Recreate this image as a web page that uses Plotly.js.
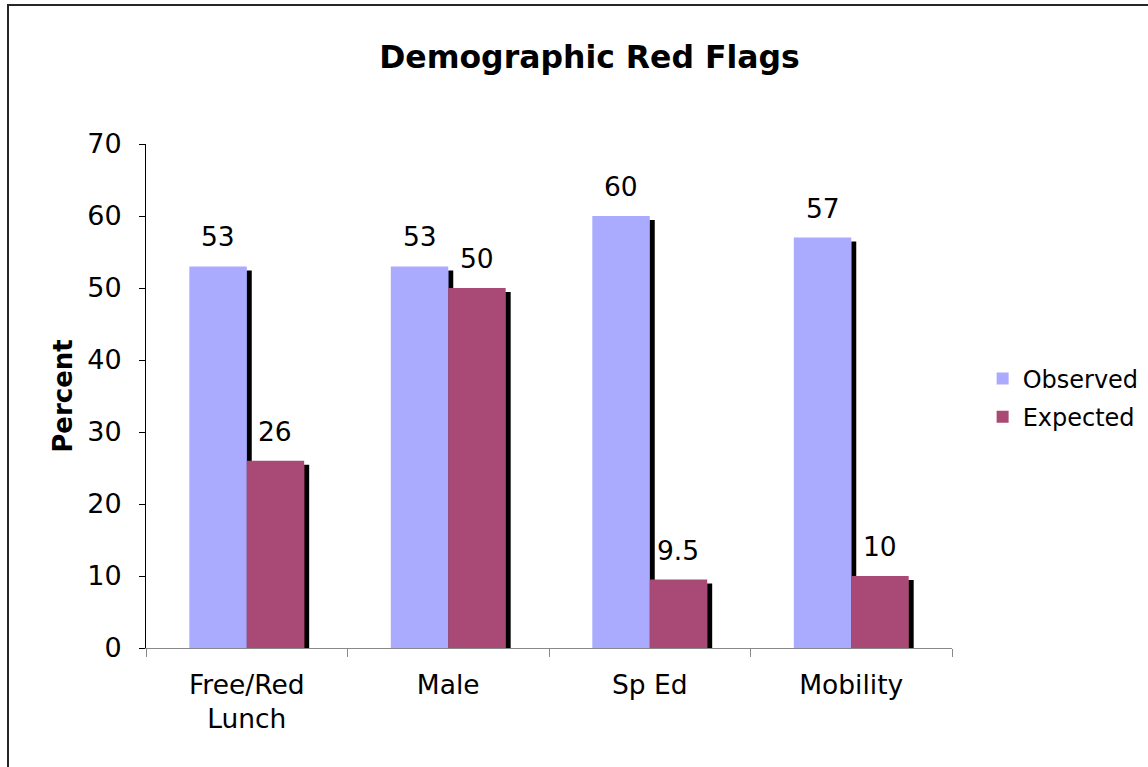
<!DOCTYPE html>
<html>
<head>
<meta charset="utf-8">
<script src="https://cdn.plot.ly/plotly-3.0.1.min.js"></script>
<style>
  html, body { margin: 0; padding: 0; background: #fff; }
  #chart { position: absolute; left: 0; top: 0; width: 1148px; height: 767px; }
  #frame { position: absolute; left: 7px; top: 4px; width: 1160px; height: 780px;
           border-left: 2px solid #262626; border-top: 2px solid #262626; pointer-events: none; }
</style>
</head>
<body>
<div id="chart"></div>
<div id="frame"></div>
<script>
const categories = ["Free/Red<br>Lunch", "Male", "Sp Ed", "Mobility"];
const observed = [53, 53, 60, 57];
const expected = [26, 50, 9.5, 10];
const labelsObserved = ["53", "53", "60", "57"];
const labelsExpected = ["26", "50", "9.5", "10"];
const yTicks = [0, 10, 20, 30, 40, 50, 60, 70];

const FONT = "DejaVu Sans, Verdana, sans-serif";
const bargap = 0.43;
const barW = (1 - bargap) / 2;

const traces = [
  { type: "bar", name: "Observed", x: categories, y: observed, legendgroup: "a",
    marker: { color: "#AAAAFF", line: { width: 0 } }, cliponaxis: false, hoverinfo: "none" },
  { type: "bar", name: "Expected", x: categories, y: expected, legendgroup: "b",
    marker: { color: "#A94A74", line: { width: 0 } }, cliponaxis: false, hoverinfo: "none" }
];

const annotations = [];
categories.forEach((c, i) => {
  annotations.push({ xref: "x", yref: "y", x: i - barW / 2, y: observed[i], text: labelsObserved[i],
    showarrow: false, yanchor: "bottom", yshift: 12, font: { family: FONT, size: 26.5, color: "#000" } });
  annotations.push({ xref: "x", yref: "y", x: i + barW / 2, y: expected[i], text: labelsExpected[i],
    showarrow: false, yanchor: "bottom", yshift: 12, font: { family: FONT, size: 26.5, color: "#000" } });
});

const layout = {
  width: 1148, height: 767,
  paper_bgcolor: "#fff", plot_bgcolor: "#fff",
  margin: { l: 146, r: 196, t: 144, b: 119, pad: 0, autoexpand: false },
  font: { family: FONT, size: 24, color: "#000" },
  title: { text: "<b>Demographic Red Flags</b>", font: { family: FONT, size: 31.5, color: "#000" },
           x: 0.5135, xref: "container", xanchor: "center", y: 0.926, yref: "container", yanchor: "middle" },
  barmode: "group", bargap: bargap, bargroupgap: 0,
  showlegend: true,
  legend: { x: 1.038, y: 0.496, xanchor: "left", yanchor: "middle", xref: "paper", yref: "paper",
            traceorder: "grouped", tracegroupgap: 4,
            font: { family: FONT, size: 24, color: "#000" }, bgcolor: "rgba(0,0,0,0)", itemwidth: 30 },
  xaxis: { type: "category", showgrid: false, zeroline: false, showline: true, linecolor: "#888", linewidth: 1,
           ticks: "outside", tickson: "boundaries", ticklen: 8, tickcolor: "#888", tickwidth: 1,
           tickfont: { family: FONT, size: 26.5, color: "#000" }, ticklabelstandoff: 13 },
  yaxis: { range: [0, 70], tickvals: yTicks, ticktext: yTicks.map(String), showgrid: false, zeroline: false,
           showline: true, linecolor: "#000", linewidth: 1, ticks: "outside", ticklen: 6, tickcolor: "#000",
           tickfont: { family: FONT, size: 27, color: "#000" }, ticklabelstandoff: 12,
           title: { text: "<b>Percent</b>", font: { family: FONT, size: 26, color: "#000" }, standoff: 7 } },
  annotations: annotations
};

Plotly.newPlot("chart", traces, layout, { staticPlot: true }).then(gd => {
  const svg = gd.querySelector("svg.main-svg");
  const ns = "http://www.w3.org/2000/svg";
  let defs = svg.querySelector("defs");
  if (!defs) { defs = document.createElementNS(ns, "defs"); svg.insertBefore(defs, svg.firstChild); }
  const f = document.createElementNS(ns, "filter");
  f.setAttribute("id", "barshadow");
  f.setAttribute("x", "-20%"); f.setAttribute("y", "-20%");
  f.setAttribute("width", "140%"); f.setAttribute("height", "140%");
  f.innerHTML = '<feOffset in="SourceAlpha" dx="5" dy="4" result="off"/>' +
                '<feFlood flood-color="#000" result="blk"/>' +
                '<feComposite in="blk" in2="off" operator="in" result="sh"/>' +
                '<feMerge><feMergeNode in="sh"/><feMergeNode in="SourceGraphic"/></feMerge>';
  defs.appendChild(f);
  gd.querySelectorAll(".barlayer .point path").forEach(p => p.setAttribute("filter", "url(#barshadow)"));
});
</script>
</body>
</html>
